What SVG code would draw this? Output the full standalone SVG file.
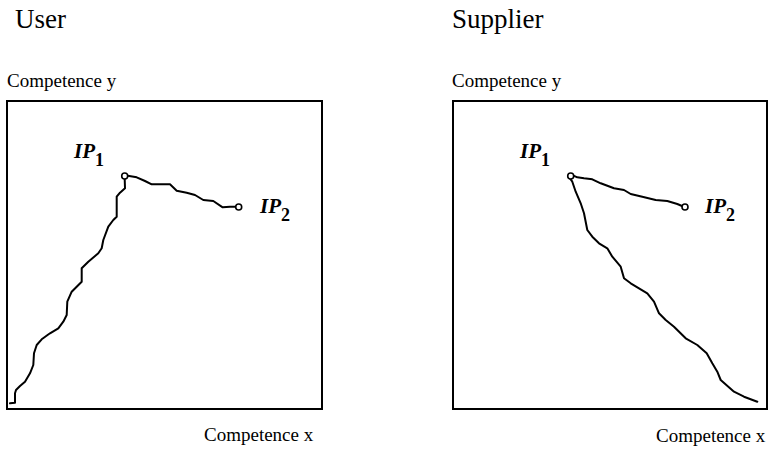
<svg xmlns="http://www.w3.org/2000/svg" width="769" height="453" viewBox="0 0 769 453">
<style>
.title{font-family:"Liberation Serif",serif;font-size:27px;fill:#000}
.axis{font-family:"Liberation Serif",serif;font-size:19px;fill:#000}
.ip{font-family:"Liberation Serif",serif;font-size:21px;font-weight:bold;font-style:italic;fill:#000}
.sub{font-size:18px;font-style:normal}
.frame{fill:none;stroke:#000;stroke-width:2}
.curve{fill:none;stroke:#000;stroke-width:2;stroke-linejoin:round;stroke-linecap:round}
.pt{fill:#fff;stroke:#000;stroke-width:1.6}
</style>
<g id="user-panel">
<text class="title" x="15" y="28">User</text>
<text class="axis" x="7" y="87">Competence y</text>
<rect class="frame" x="7" y="101" width="315" height="308"/>
<text class="axis" x="204" y="441">Competence x</text>
</g>
<g id="supplier-panel">
<text class="title" x="452" y="28">Supplier</text>
<text class="axis" x="452" y="87">Competence y</text>
<rect class="frame" x="453" y="101" width="314" height="308"/>
<text class="axis" x="656" y="442">Competence x</text>
</g>
<g id="connectors">
<path class="curve" d="M127.7,175.7 L136.7,177.3 L145,181 L151.7,184.3 L170,184.3 L176.7,190.7 L186.7,192.7 L195,195 L203.3,200 L213.3,201 L222.7,207.3 L230,206.7 L235.7,206.7"/>
<path class="curve" d="M124.7,179 L125,188.3 L120,192.7 L116.7,196.7 L116.7,216.7 L113.3,220 L108.3,226.7 L103.3,240 L101.7,248.3 L98.3,253.3 L88.3,261.7 L81.7,268.3 L81.7,281.7 L76.7,286.7 L71.7,291.7 L67.3,301.7 L66.7,315 L63.3,321.7 L58.3,328.3 L50,333.3 L41.7,339.3 L36.7,345 L34,353.3 L33.3,365 L30,373.3 L25,381.7 L20,386 L16,390 L15,393.3 L15,402.7 L10,403.3"/>
<path class="curve" d="M573.5,175.7 L577.3,177.3 L584,178.3 L592.3,179.3 L600.7,183.3 L614,188.3 L624,190 L630.7,194 L642.3,196.7 L655.7,200 L667.3,201 L677.3,204 L682,206"/>
<path class="curve" d="M570,178.5 L572.3,181.7 L575.7,191.7 L580.7,203.3 L584,213.3 L587.3,230 L592.3,236.7 L599,243.3 L607.3,248.3 L612.3,256.7 L620.7,266.7 L624,278.3 L630.7,283.3 L639,288.3 L647.3,293.3 L654,301.7 L659,313.3 L665.7,320 L674,326.7 L685.7,338.3 L697.3,345 L706.7,353.3 L712.3,363.3 L717.3,371.7 L720.7,380 L734,391.7 L744,396.7 L757.3,401.7"/>
</g>
<g id="user-ip1">
<circle class="pt" cx="124.7" cy="176" r="3"/>
<text class="ip" x="74" y="158">IP<tspan class="sub" dy="8">1</tspan></text>
</g>
<g id="user-ip2">
<circle class="pt" cx="238.7" cy="207" r="3"/>
<text class="ip" x="260" y="213">IP<tspan class="sub" dy="8">2</tspan></text>
</g>
<g id="supplier-ip1">
<circle class="pt" cx="570.7" cy="176" r="3"/>
<text class="ip" x="520" y="158">IP<tspan class="sub" dy="8">1</tspan></text>
</g>
<g id="supplier-ip2">
<circle class="pt" cx="685" cy="207" r="3"/>
<text class="ip" x="705" y="213">IP<tspan class="sub" dy="8">2</tspan></text>
</g>
</svg>
